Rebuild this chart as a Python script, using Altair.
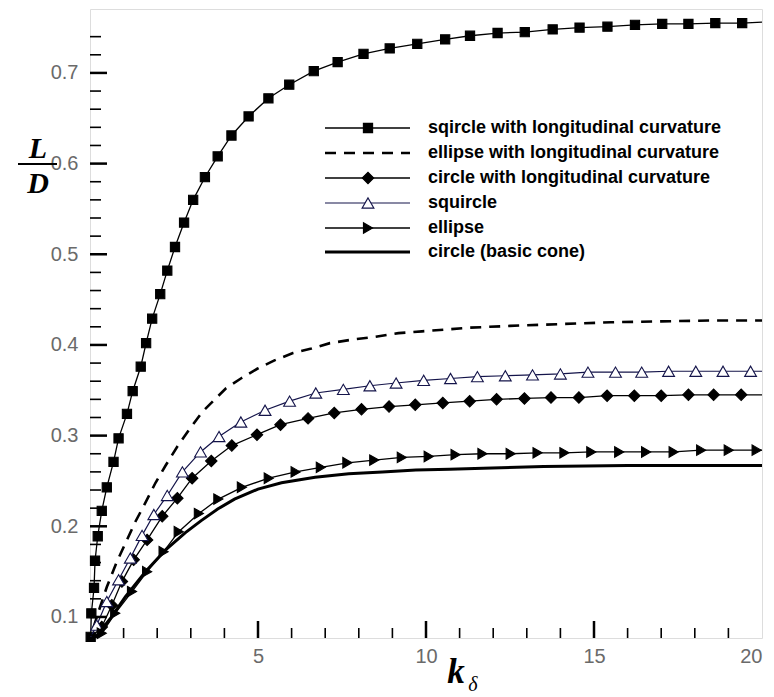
import altair as alt
import pandas as pd

# ---------------- data ----------------
sqL_k = [0.02, 0.04, 0.12, 0.15, 0.23, 0.35, 0.50, 0.70, 0.85, 1.10, 1.27, 1.51, 1.67, 1.85, 2.09, 2.30,
         2.53, 2.80, 3.07, 3.42, 3.80, 4.21, 4.72, 5.31, 5.93, 6.66, 7.37, 8.14, 8.92, 9.74, 10.57, 11.31,
         12.13, 12.94, 13.77, 14.57, 15.40, 16.22, 17.03, 17.81, 18.61, 19.41, 20.0]
sqL_y = [0.078, 0.104, 0.132, 0.162, 0.189, 0.217, 0.243, 0.271, 0.297, 0.324, 0.349, 0.376, 0.402, 0.429,
         0.456, 0.482, 0.508, 0.535, 0.560, 0.585, 0.608, 0.631, 0.652, 0.672, 0.687, 0.702, 0.712, 0.721,
         0.727, 0.732, 0.737, 0.741, 0.744, 0.745, 0.748, 0.750, 0.751, 0.753, 0.754, 0.754, 0.755, 0.755, 0.756]

elL_k = [0.10, 0.30, 0.50, 0.80, 1.05, 1.35, 1.65, 1.95, 2.25, 2.60, 2.94, 3.34, 4.04, 4.49, 4.99, 5.49,
         6.04, 6.59, 7.14, 7.83, 8.48, 9.18, 9.88, 10.58, 11.28, 12.5, 14.0, 15.5, 17.0, 18.5, 20.0]
elL_y = [0.088, 0.111, 0.133, 0.161, 0.181, 0.205, 0.226, 0.248, 0.267, 0.288, 0.306, 0.326, 0.352, 0.363,
         0.374, 0.383, 0.391, 0.396, 0.402, 0.406, 0.409, 0.413, 0.415, 0.417, 0.419, 0.421, 0.423, 0.425,
         0.426, 0.427, 0.427]

ciL_k = [0.05, 0.35, 0.65, 0.95, 1.30, 1.70, 2.15, 2.60, 3.04, 3.61, 4.22, 4.97, 5.67, 6.49, 7.27, 8.08,
         8.90, 9.68, 10.50, 11.30, 12.10, 12.93, 13.72, 14.55, 15.39, 16.20, 17.00, 17.81, 18.56, 19.38, 20.0]
ciL_y = [0.078, 0.089, 0.113, 0.139, 0.163, 0.185, 0.211, 0.231, 0.253, 0.272, 0.289, 0.301, 0.312, 0.319,
         0.325, 0.329, 0.332, 0.334, 0.336, 0.338, 0.340, 0.341, 0.342, 0.342, 0.344, 0.344, 0.344, 0.345,
         0.345, 0.345, 0.345]

sq_k = [0.02, 0.20, 0.50, 0.85, 1.20, 1.55, 1.90, 2.30, 2.75, 3.29, 3.84, 4.49, 5.21, 5.94, 6.72, 7.54,
        8.33, 9.11, 9.93, 10.73, 11.53, 12.36, 13.17, 14.00, 14.82, 15.64, 16.42, 17.22, 18.03, 18.84, 19.66, 20.0]
sq_y = [0.078, 0.091, 0.117, 0.141, 0.165, 0.190, 0.213, 0.234, 0.260, 0.282, 0.299, 0.315, 0.328, 0.338,
        0.347, 0.351, 0.355, 0.358, 0.361, 0.363, 0.365, 0.366, 0.367, 0.368, 0.370, 0.370, 0.370, 0.371,
        0.371, 0.371, 0.371, 0.371]

el_k = [0.20, 0.35, 0.75, 1.25, 1.70, 2.19, 2.64, 3.24, 3.82, 4.52, 5.32, 6.12, 6.87, 7.66, 8.46, 9.28,
        10.08, 10.88, 11.68, 12.52, 13.32, 14.12, 14.92, 15.75, 16.55, 17.37, 18.19, 19.01, 19.84, 20.0]
el_y = [0.077, 0.082, 0.104, 0.128, 0.150, 0.172, 0.194, 0.214, 0.230, 0.243, 0.253, 0.260, 0.265, 0.270,
        0.273, 0.276, 0.277, 0.279, 0.280, 0.280, 0.281, 0.281, 0.282, 0.282, 0.282, 0.282, 0.284, 0.284,
        0.284, 0.284]

ci_k = [0.15, 0.6, 1.05, 1.65, 2.25, 2.84, 3.3, 3.8, 4.3, 5.0, 5.7, 6.7, 7.7, 8.7, 9.7, 10.7, 11.7, 13.5, 16.0, 20.0]
ci_y = [0.077, 0.098, 0.122, 0.150, 0.174, 0.193, 0.206, 0.219, 0.230, 0.241, 0.248, 0.254, 0.258, 0.260,
        0.262, 0.263, 0.264, 0.266, 0.267, 0.267]

names = ["sqircle with longitudinal curvature", "ellipse with longitudinal curvature",
         "circle with longitudinal curvature", "squircle", "ellipse", "circle (basic cone)"]

x_major = [5, 10, 15, 20]
y_major = [0.1, 0.2, 0.3, 0.4, 0.5, 0.6, 0.7]
x_minor = [1, 2, 3, 4, 6, 7, 8, 9, 11, 12, 13, 14, 16, 17, 18, 19]
y_minor = [0.08, 0.12, 0.14, 0.16, 0.18, 0.22, 0.24, 0.26, 0.28, 0.32, 0.34, 0.36, 0.38, 0.42, 0.44, 0.46,
           0.48, 0.52, 0.54, 0.56, 0.58, 0.62, 0.64, 0.66, 0.68, 0.72, 0.74]

# ---------------- styles ----------------
NAVY = "#14144a"
styles = [
    dict(k=sqL_k, y=sqL_y, color="black", sw=1.3, dash=None, shape="square", fill="black", size=85, lastfree=True, firstfree=False),
    dict(k=elL_k, y=elL_y, color="black", sw=2.6, dash=[11, 8], shape=None),
    dict(k=ciL_k, y=ciL_y, color="black", sw=1.3, dash=None, shape="diamond", fill="black", size=130, lastfree=True, firstfree=True),
    dict(k=sq_k, y=sq_y, color=NAVY, sw=1.2, dash=None, shape="triangle-up", fill="white", size=140, lastfree=True, firstfree=True),
    dict(k=el_k, y=el_y, color="black", sw=1.3, dash=None, shape="triangle-right", fill="black", size=110, lastfree=True, firstfree=True),
    dict(k=ci_k, y=ci_y, color="black", sw=3.0, dash=None, shape=None),
]

W, H = 672, 629
xs = alt.Scale(domain=[0, 20], nice=False, zero=False)
ys = alt.Scale(domain=[0.0768, 0.7705], nice=False, zero=False)
LABEL_FONT = "Liberation Sans"
xaxis = alt.Axis(values=x_major, ticks=False, domain=False, grid=False, labelFont=LABEL_FONT,
                 labelFontSize=20, labelColor="#6a6a6a", labelPadding=8, title=None)
yaxis = alt.Axis(values=y_major, ticks=False, domain=False, grid=False, labelFont=LABEL_FONT,
                 labelFontSize=20, labelColor="#6a6a6a", labelPadding=12, format=".1f", title=None)


def X(field):
    return alt.X(field, scale=xs, axis=xaxis, title=None)


def Y(field):
    return alt.Y(field, scale=ys, axis=yaxis, title=None)


layers = []
for i, s in enumerate(styles):
    df = pd.DataFrame({"k": s["k"], "v": s["y"]})
    lkw = dict(color=s["color"], strokeWidth=s["sw"], clip=True)
    if s["dash"]:
        lkw["strokeDash"] = s["dash"]
    layers.append(alt.Chart(df).mark_line(**lkw).encode(x=X("k:Q"), y=Y("v:Q")))
    if s["shape"]:
        pdf = df.copy()
        if s.get("lastfree"):
            pdf = pdf.iloc[:-1]
        if s.get("firstfree"):
            pdf = pdf.iloc[1:]
        layers.append(
            alt.Chart(pdf).mark_point(shape=s["shape"], filled=True, fill=s["fill"], stroke=s["color"],
                                      strokeWidth=1.1, size=s["size"], opacity=1)
            .encode(x=X("k:Q"), y=Y("v:Q"))
        )

# inward ticks
tx_major = pd.DataFrame({"k": x_major[:-1]})
tx_minor = pd.DataFrame({"k": x_minor})
ty_major = pd.DataFrame({"v": y_major})
ty_minor = pd.DataFrame({"v": y_minor})
layers.append(alt.Chart(tx_major).mark_rule(color="black", strokeWidth=2.5).encode(
    x=X("k:Q"), y=alt.value(H), y2=alt.value(H - 17)))
layers.append(alt.Chart(tx_minor).mark_rule(color="black", strokeWidth=1.6).encode(
    x=X("k:Q"), y=alt.value(H), y2=alt.value(H - 10)))
layers.append(alt.Chart(ty_major).mark_rule(color="black", strokeWidth=2.5).encode(
    y=Y("v:Q"), x=alt.value(0), x2=alt.value(17)))
layers.append(alt.Chart(ty_minor).mark_rule(color="black", strokeWidth=1.6).encode(
    y=Y("v:Q"), x=alt.value(0), x2=alt.value(11)))

# legend
row_y = [119, 144, 169, 194, 219, 243]
for i, s in enumerate(styles):
    one = pd.DataFrame({"name": [names[i]]})
    rkw = dict(color=s["color"], strokeWidth=s["sw"])
    if s["dash"]:
        rkw["strokeDash"] = s["dash"]
    layers.append(alt.Chart(one).mark_rule(**rkw).encode(
        x=alt.value(235), x2=alt.value(320), y=alt.value(row_y[i])))
    if s["shape"]:
        layers.append(alt.Chart(one).mark_point(shape=s["shape"], filled=True, fill=s["fill"], stroke=s["color"],
                                                strokeWidth=1.1, size=s["size"], opacity=1).encode(
            x=alt.value(278), y=alt.value(row_y[i])))
    layers.append(alt.Chart(one).mark_text(align="left", baseline="middle", font="Liberation Sans",
                                           fontWeight="bold", fontSize=18, color="black").encode(
        x=alt.value(338), y=alt.value(row_y[i]), text="name:N"))

# axis titles (fraction L/D and k with subscript delta)
serif = dict(font="Liberation Serif", fontStyle="italic", fontWeight="bold", baseline="alphabetic", align="center")
layers.append(alt.Chart(pd.DataFrame({"s": ["L"]})).mark_text(fontSize=30, **serif).encode(
    x=alt.value(-52), y=alt.value(149), text="s:N"))
layers.append(alt.Chart(pd.DataFrame({"s": ["D"]})).mark_text(fontSize=30, **serif).encode(
    x=alt.value(-52), y=alt.value(184), text="s:N"))
layers.append(alt.Chart(pd.DataFrame({"s": ["bar"]})).mark_rule(color="black", strokeWidth=2).encode(
    x=alt.value(-72), x2=alt.value(-33), y=alt.value(155)))
layers.append(alt.Chart(pd.DataFrame({"s": ["k"]})).mark_text(fontSize=35, **serif).encode(
    x=alt.value(366), y=alt.value(674), text="s:N"))
layers.append(alt.Chart(pd.DataFrame({"s": ["δ"]})).mark_text(
    font="Liberation Serif", fontStyle="italic", fontSize=20, baseline="alphabetic", align="center").encode(
    x=alt.value(383), y=alt.value(682), text="s:N"))

chart = alt.layer(*layers).properties(
    width=W, height=H,
    autosize=alt.AutoSizeParams(type="none"),
    padding={"left": 82, "top": 1, "right": 4, "bottom": 58},
).configure_view(stroke="black", strokeWidth=3).configure(background="white")

chart.save("out.html", embed_options={"renderer": "svg", "actions": False})
